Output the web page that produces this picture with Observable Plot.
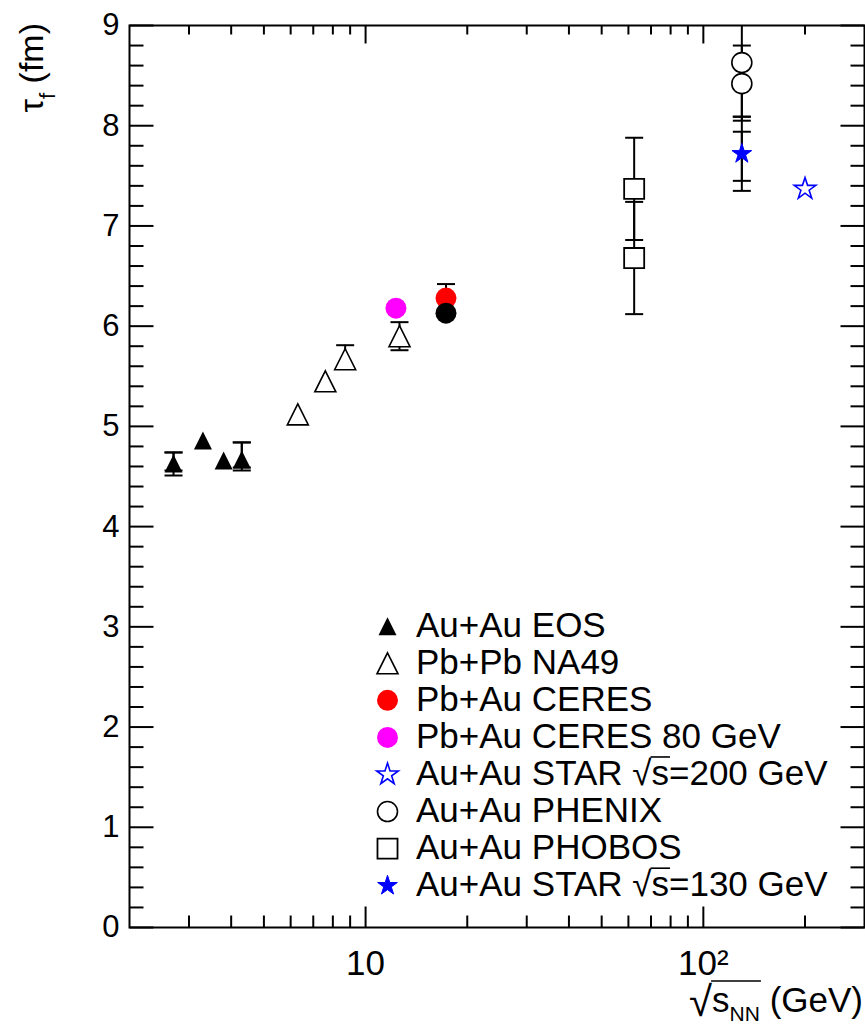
<!DOCTYPE html>
<html>
<head>
<meta charset="utf-8">
<script src="https://cdn.jsdelivr.net/npm/d3@7"></script>
<script src="https://cdn.jsdelivr.net/npm/@observablehq/plot@0.6"></script>
<style>
  html, body { margin: 0; padding: 0; background: #fff; }
  #chart svg { display: block; }
</style>
</head>
<body>
<div id="chart"></div>
<script>
// ---- data: freeze-out time tau_f (fm) versus sqrt(s_NN) (GeV) ----
const eosEnergy = [2.7, 3.3, 3.8, 4.3];          // Au+Au EOS
const eosTau    = [4.63, 4.86, 4.66, 4.67];
const na49Energy = [6.3, 7.6, 8.7, 12.6];        // Pb+Pb NA49
const na49Tau    = [5.12, 5.45, 5.67, 5.90];
const na49TopEnergy = [17.3];                    // Pb+Pb at top SPS energy
const na49TopTau    = [6.13];
const ceresEnergy = [17.3];                      // Pb+Au CERES
const ceresTau    = [6.28];
const ceres80Energy = [12.3];                    // Pb+Au CERES 80 GeV
const ceres80Tau    = [6.18];
const star200Energy = [200];                     // Au+Au STAR 200 GeV
const star200Tau    = [7.37];
const phenixEnergy = [130, 130];                 // Au+Au PHENIX
const phenixTau    = [8.63, 8.42];
const phobosEnergy = [62.4, 62.4];               // Au+Au PHOBOS
const phobosTau    = [7.37, 6.68];
const star130Energy = [130];                     // Au+Au STAR 130 GeV
const star130Tau    = [7.72];

// error bars: energy, lower end, upper end
const errEnergy = [2.7, 2.7, 4.3, 4.3, 8.7, 12.6, 17.3, 62.4, 62.4, 130, 130, 130, 130];
const errLow    = [4.51, 4.56, 4.56, 4.59, 5.59, 5.76, 6.14, 6.86, 6.12, 8.05, 8.09, 7.45, 7.35];
const errHigh   = [4.74, 4.74, 4.84, 4.84, 5.81, 6.04, 6.42, 7.88, 7.24, 9.30, 8.80, 7.94, 8.09];

const legendLabels = [
  "Au+Au EOS",
  "Pb+Pb NA49",
  "Pb+Au CERES",
  "Pb+Au CERES 80 GeV",
  "Au+Au STAR √s=200 GeV",
  "Au+Au PHENIX",
  "Au+Au PHOBOS",
  "Au+Au STAR √s=130 GeV"
];

const yTickValues = [0, 1, 2, 3, 4, 5, 6, 7, 8, 9];
const xLabelValues = [10, 100];
const xLabelText = ["10", "10²"];
const xMinorValues = [3, 4, 5, 6, 7, 8, 9, 20, 30, 40, 50, 60, 70, 80, 90, 200];

// ---- drawing ----
const FONT = "'Liberation Sans', Arial, Helvetica, sans-serif";
const yMinorValues = d3.range(1, 45).map(i => i / 5).filter(v => !Number.isInteger(v));

// triangle centred on its bounding box, as wide as it is tall
const triangleUp = {
  draw(ctx, size) {
    const r = Math.sqrt(size / Math.PI);
    ctx.moveTo(0, -r);
    ctx.lineTo(r, r);
    ctx.lineTo(-r, r);
    ctx.closePath();
  }
};
// straight segment from the anchor point, for ticks and error caps
const seg = (x0, y0, x1, y1) => ({
  draw(ctx) { ctx.moveTo(x0, y0); ctx.lineTo(x1, y1); }
});

const series = [
  {x: eosEnergy,     y: eosTau,     symbol: triangleUp,      r: 9,    fill: "black",   stroke: "none",    sw: 0,   legend: 0},
  {x: na49Energy,    y: na49Tau,    symbol: triangleUp,      r: 10.5, fill: "white",   stroke: "black",   sw: 1.6, legend: 1},
  {x: ceresEnergy,   y: ceresTau,   symbol: d3.symbolCircle, r: 10.5, fill: "#ff0000", stroke: "none",    sw: 0,   legend: 2},
  {x: na49TopEnergy, y: na49TopTau, symbol: d3.symbolCircle, r: 10.5, fill: "black",   stroke: "none",    sw: 0,   legend: -1},
  {x: ceres80Energy, y: ceres80Tau, symbol: d3.symbolCircle, r: 10.5, fill: "#ff00ff", stroke: "none",    sw: 0,   legend: 3},
  {x: star200Energy, y: star200Tau, symbol: d3.symbolStar,   r: 6.8,  fill: "white",   stroke: "#0000ff", sw: 1.6, legend: 4},
  {x: phenixEnergy,  y: phenixTau,  symbol: d3.symbolCircle, r: 10,   fill: "white",   stroke: "black",   sw: 1.6, legend: 5},
  {x: phobosEnergy,  y: phobosTau,  symbol: d3.symbolSquare, r: 11.3, fill: "white",   stroke: "black",   sw: 1.8, legend: 6},
  {x: star130Energy, y: star130Tau, symbol: d3.symbolStar,   r: 6.2,  fill: "#0000ff", stroke: "#0000ff", sw: 1,   legend: 7}
];

const errIndex = d3.range(errEnergy.length);
const caps = errIndex.flatMap(i => [{x: errEnergy[i], y: errLow[i]}, {x: errEnergy[i], y: errHigh[i]}]);

const tickStyle = {stroke: "black", strokeWidth: 2, fill: "none"};

const chart = Plot.plot({
  width: 865,
  height: 1027,
  marginTop: 25,
  marginRight: 1,
  marginBottom: 100,
  marginLeft: 129,
  style: {fontFamily: FONT, background: "white", color: "black"},
  x: {type: "log", domain: [2, 300], axis: null},
  y: {domain: [0, 9], axis: null},
  marks: [
    // error bars
    Plot.ruleX(errIndex, {x: i => errEnergy[i], y1: i => errLow[i], y2: i => errHigh[i], stroke: "black", strokeWidth: 2, clip: true}),
    Plot.dot(caps, {x: "x", y: "y", symbol: seg(-9, 0, 9, 0), ...tickStyle, clip: true}),
    // data points
    ...series.map(s => Plot.dot(d3.range(s.x.length), {
      x: i => s.x[i], y: i => s.y[i], symbol: s.symbol, r: s.r,
      fill: s.fill, stroke: s.stroke, strokeWidth: s.sw
    })),
    // inward ticks on all four sides
    Plot.dot(yTickValues, {y: d => d, frameAnchor: "left", symbol: seg(0, 0, 24, 0), ...tickStyle}),
    Plot.dot(yMinorValues, {y: d => d, frameAnchor: "left", symbol: seg(0, 0, 14, 0), ...tickStyle}),
    Plot.dot(yTickValues, {y: d => d, frameAnchor: "right", symbol: seg(0, 0, -24, 0), ...tickStyle}),
    Plot.dot(yMinorValues, {y: d => d, frameAnchor: "right", symbol: seg(0, 0, -14, 0), ...tickStyle}),
    Plot.dot(xLabelValues, {x: d => d, frameAnchor: "bottom", symbol: seg(0, 0, 0, -21), ...tickStyle}),
    Plot.dot(xMinorValues, {x: d => d, frameAnchor: "bottom", symbol: seg(0, 0, 0, -12), ...tickStyle}),
    Plot.dot(xLabelValues, {x: d => d, frameAnchor: "top", symbol: seg(0, 0, 0, 18), ...tickStyle}),
    Plot.dot(xMinorValues, {x: d => d, frameAnchor: "top", symbol: seg(0, 0, 0, 9), ...tickStyle}),
    // tick labels
    Plot.text(yTickValues, {y: d => d, text: d => String(d), frameAnchor: "left", dx: -10, textAnchor: "end", fontSize: 31, fill: "black"}),
    Plot.text(xLabelValues, {x: d => d, text: (d, i) => xLabelText[i], frameAnchor: "bottom", dy: 23, lineAnchor: "top", fontSize: 35, fill: "black"}),
    Plot.frame({stroke: "black", strokeWidth: 2})
  ]
});
document.getElementById("chart").append(chart);

const svg = d3.select(chart);

// writes a run of text pieces left to right; pieces flagged "over" get a radical bar
function writeRun(g, x0, baseline, parts, barRise) {
  let x = x0;
  const bars = [];
  for (const p of parts) {
    const el = g.append("text")
      .attr("x", x)
      .attr("y", baseline + (p.dy || 0))
      .attr("font-size", p.size)
      .attr("text-anchor", "start")
      .text(p.t);
    const w = el.node().getComputedTextLength();
    if (p.over) bars.push([x - 1, x + w + 1]);
    x += w;
  }
  if (bars.length) {
    g.append("line")
      .attr("x1", bars[0][0]).attr("x2", bars[bars.length - 1][1])
      .attr("y1", baseline - barRise).attr("y2", baseline - barRise)
      .attr("stroke", "black").attr("stroke-width", 1.6);
  }
  return x - x0;
}

function labelParts(label, size) {
  const k = label.indexOf("√");
  if (k < 0) return [{t: label, size}];
  return [
    {t: label.slice(0, k), size},
    {t: "√", size},
    {t: label[k + 1], size, over: true},
    {t: label.slice(k + 2), size}
  ];
}

// legend
const legend = svg.append("g").attr("font-family", FONT).attr("fill", "black").attr("text-anchor", "start");
series.filter(s => s.legend >= 0).forEach(s => {
  const i = s.legend;
  const base = 636.7 + i * 37.07;
  legend.append("path")
    .attr("transform", `translate(387.5,${base - 10.5})`)
    .attr("d", d3.symbol(s.symbol, Math.PI * s.r * s.r)())
    .attr("fill", s.fill)
    .attr("stroke", s.stroke)
    .attr("stroke-width", s.sw);
  writeRun(legend, 416, base, labelParts(legendLabels[i], 35), 28);
});

// x-axis title, right aligned to the frame
const xTitle = svg.append("g").attr("font-family", FONT).attr("fill", "black").attr("text-anchor", "start");
const xw = writeRun(xTitle, 0, 1012, [
  {t: "√", size: 42, dy: 4},
  {t: "s", size: 35, over: true},
  {t: "NN", size: 21, dy: 9, over: true},
  {t: " (GeV)", size: 35}
], 31);
xTitle.attr("transform", `translate(${863 - xw},0)`);

// y-axis title, rotated, ending at the top of the frame
svg.append("text")
  .attr("font-family", FONT)
  .attr("fill", "black")
  .attr("font-size", 34)
  .attr("text-anchor", "end")
  .attr("transform", "translate(43,23) rotate(-90)")
  .call(t => {
    t.append("tspan").text("τ");
    t.append("tspan").attr("dy", 12).attr("font-size", 22).text("f");
    t.append("tspan").attr("dy", -12).text(" (fm)");
  });
</script>
</body>
</html>
